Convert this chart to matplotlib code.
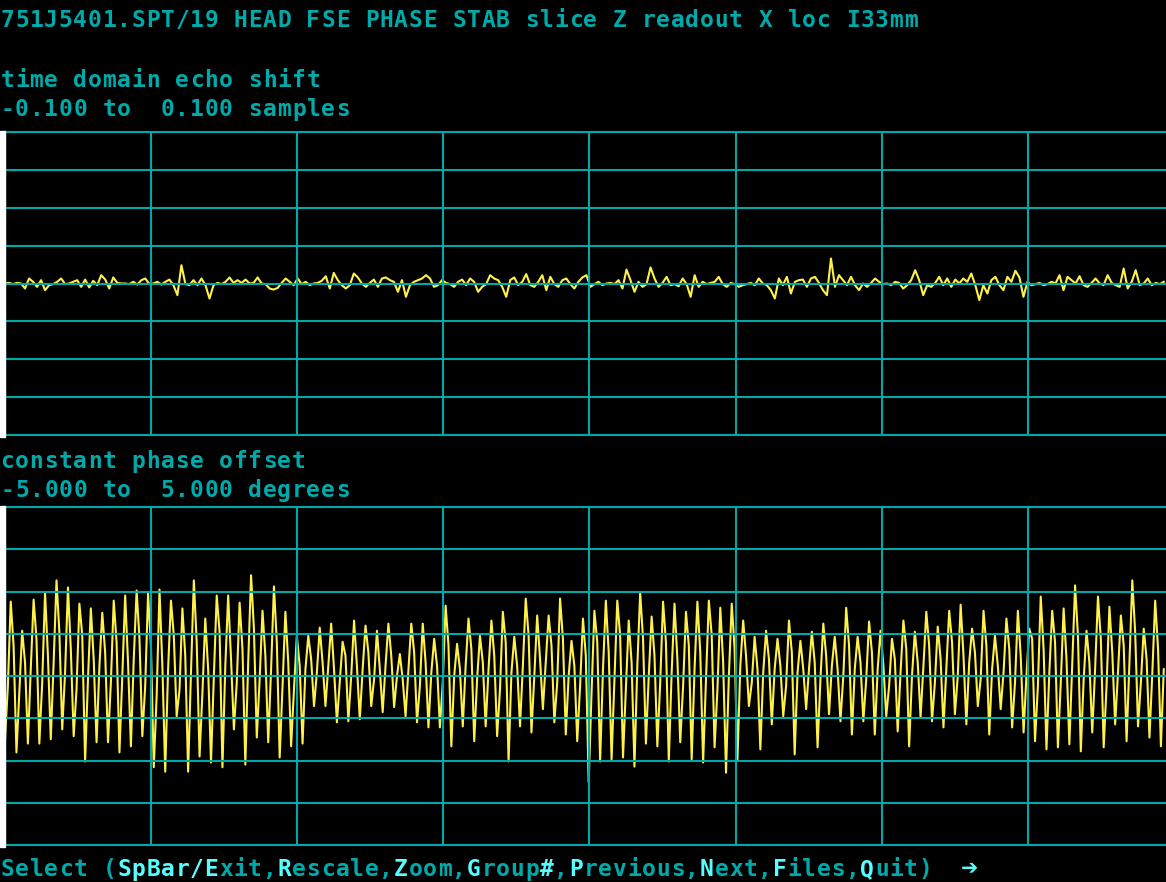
import matplotlib
matplotlib.use("Agg")
import matplotlib.pyplot as plt
from matplotlib.patches import Rectangle
import numpy as np

# ============================
# Screen text
# ============================
title = "751J5401.SPT/19 HEAD FSE PHASE STAB slice Z readout X loc I33mm"
top_label = "time domain echo shift"
top_range = "-0.100 to  0.100 samples"
bottom_label = "constant phase offset"
bottom_range = "-5.000 to  5.000 degrees"
menu = "Select (SpBar/Exit,Rescale,Zoom,Group#,Previous,Next,Files,Quit)"
menu_hot = [8, 9, 10, 11, 12, 13, 14, 19, 27, 32, 37, 39, 48, 53, 59]
prompt_arrow = "\u2794"

# ============================
# Trace data
# ============================
echo_range = (-0.1, 0.1)      # samples
phase_range = (-5.0, 5.0)     # degrees

# time domain echo shift, in 1/1000 samples
echo_shift_milli = [
    0, 0.4, -0.4, 0.4, 0, -3.3, 3.3, 1.1, -2.2, 2.2, -4.4, -1.1, -0.4, 1.1, 3.3, -0.4,
    0, 1.1, 2.2, -2.2, 2.6, -2.6, 1.8, -1.1, 5.5, 2.6, -3.3, 4.0, 0.4, 0, 0, -0.4,
    1.1, -0.7, 2.2, 3.3, -0.4, 0, 1.1, -0.7, 1.1, 2.6, -1.1, -7.7, 12.1, -0.4, -1.1, 2.2,
    -1.1, 3.3, -1.1, -9.9, -1.1, 0.4, -0.4, 1.1, 4.0, 0.4, 2.2, 0.4, 2.6, 0, 0.4, 4.0,
    0, -0.4, -3.3, -4.0, -2.9, 0.4, 3.3, 1.1, -1.1, 3.3, -0.4, 1.1, -1.1, 0, 0.4, 1.8,
    4.8, -3.3, 7.0, 2.2, -1.1, -3.3, -1.1, 6.6, 4.0, 0, -2.2, 0.4, 2.6, -2.2, 3.3, 4.0,
    2.2,
    1.1, -5.5, 2.2, -8.8, -1.1, 1.1, 2.2, 3.3, 5.5, 3.3, -2.2, -1.1, 2.2, 0.4, -0.4, -2.2,
    1.1, 2.6, -1.1, 3.3, 1.1, -5.5, -2.2, -0.4, 5.5, 3.3, 2.2, -2.2, -8.8, 2.2, 4.0, -1.1,
    1.1, 6.2, -1.1, -2.2, 1.1, 5.5, -4.4, 4.4, -0.4, -2.2, 2.2, 3.3, -0.4, -3.3, 1.1, 4.0,
    5.5, -2.2, -0.4, 1.1, -1.1, 0, 0.4, -0.4, 2.2, -3.3, 9.2, 2.2, -5.5, 1.1, -2.2, -0.4,
    10.6, 3.3, -2.2, 0.4, 4.4, -1.1, -0.4, -1.8, 3.3, -0.4, -8.8, 5.5, -2.2, 1.1, -0.4, 0.4,
    1.1, 4.4, -0.4, -2.2, 0.4, -0.4, -2.2, -1.1, -0.4, 0.4, -1.1, 3.3, 0, -1.1, -4.4, -9.9,
    3.3, -1.1, 4.4, -6.6, 1.1, 2.2, 2.6, -2.2, 3.3, 4.4, 0.4, -4.4, -7.7, 16.5, -2.2, 5.5,
    2.2, -1.1, 4.4, -1.1, -4.4, 0, -2.2, 0.4, 3.3, 1.1, -0.4, 0, -1.1, 1.1, 0.4, -3.3,
    -1.1, 2.2, 8.8, 2.2, -7.7, -1.1, -2.2, 0.4, 4.4, -1.1, 3.3, -2.2, 2.6, 0, 3.3, 1.1,
    6.6, -1.1, -11.0, -1.1, -6.6, 2.2, 4.4, -1.1, -4.4, 4.4, 1.1, 8.4, 4.0, -8.8, 1.1, -1.1,
    -0.4, 0.4, -1.1, -0.4, 1.1, 0, 5.5, -4.4, 4.4, 2.2, 0, 4.8, -1.1, -2.2, 0.4, 3.3,
    0, -1.1, 5.5, 0.4, -1.1, -2.2, 9.9, -3.3, 1.1, 8.8, -1.1, 0, 3.3, -1.1, 0.4, -0.4,
    1.1,
]

# constant phase offset, degrees (rise, peak, fall, trough per echo pair)
phase_deg = [
    -1.9,
    -0.3, 2.20, 0.9, -2.26,   -0.5, 1.34, 0.4, -2.00,   0.2, 2.26, 1.1, -2.00,
    -0.2, 2.47, 0.6, -1.87,   0.4, 2.83, 1.3, -1.58,    0.1, 2.62, 0.8, -1.78,
    -0.4, 2.14, 1.2, -2.53,   -0.1, 2.00, 0.5, -1.96,   0.3, 1.87, 0.7, -1.96,
    -0.2, 2.23, 1.0, -2.26,   0.0, 2.38, 0.4, -2.08,    0.5, 2.53, 1.1, -1.78,
    -0.3, 2.44, 0.9, -2.70,   -0.6, 2.56, 0.3, -2.83,   0.2, 2.23, 1.2, -1.19,
    -0.4, 2.00, 0.6, -2.83,   0.1, 2.83, 1.0, -2.38,    -0.5, 1.70, 0.2, -2.56,
    0.0, 2.38, 1.3, -2.70,    0.3, 2.38, 0.5, -1.58,    -0.2, 2.17, 0.8, -2.62,
    0.4, 2.98, 1.4, -1.82,    -0.1, 1.93, 0.6, -1.96,   0.2, 2.65, 1.0, -2.41,
    -0.3, 1.90, 0.4, -2.08,   -0.4, 1.19, 0.3, -2.00,   0.2, 1.19, 0.5, -0.89,
    0.1, 1.43, 0.4, -0.89,    0.3, 1.55, 0.2, -1.37,    -0.2, 1.01, 0.6, -1.34,
    0.0, 1.64, 0.3, -1.28,    0.2, 1.49, 0.7, -0.89,    -0.1, 1.34, 0.2, -1.07,
    0.3, 1.55, 0.6, -0.92,    0.0, 0.65, -0.1, -1.19,   0.2, 1.55, 0.7, -1.37,
    -0.3, 1.55, 0.4, -1.52,   0.1, 1.10, 0.3, -1.52,    -0.2, 2.08, 0.9, -2.08,
    0.0, 0.95, 0.2, -1.49,    0.3, 1.70, 0.8, -1.93,    -0.1, 1.19, 0.4, -1.49,
    0.2, 1.64, 0.6, -1.78,    -0.4, 1.90, 1.0, -2.53,   0.1, 1.16, 0.3, -1.49,
    0.3, 2.29, 1.2, -1.67,    0.0, 1.79, 0.5, -0.98,    0.4, 1.79, 0.9, -1.37,
    -0.2, 2.29, 1.1, -1.73,   0.0, 1.04, 0.3, -1.93,    -0.3, 1.70, 0.6, -3.15,
    -0.5, 1.93, 1.0, -2.53,   0.2, 2.23, 0.7, -2.47,    -0.1, 2.23, 1.2, -2.41,
    -0.4, 1.64, 0.4, -2.68,   0.3, 2.47, 1.1, -2.00,    0.0, 1.76, 0.6, -2.08,
    -0.2, 2.20, 1.0, -2.53,   0.1, 2.14, 0.5, -1.96,    -0.3, 1.90, 0.9, -2.47,
    0.2, 2.20, 0.7, -2.56,    -0.1, 2.23, 1.2, -2.11,   -0.4, 2.02, 0.4, -2.86,
    0.0, 2.14, 0.8, -2.47,    0.3, 1.64, 0.6, -0.89,    -0.2, 1.16, 0.2, -2.17,
    0.1, 1.34, 0.5, -1.43,    0.2, 1.10, 0.3, -1.19,    -0.3, 1.64, 0.7, -2.32,
    0.1, 1.04, 0.2, -0.98,    0.2, 1.31, 0.4, -2.11,    -0.1, 1.55, 0.6, -1.13,
    0.3, 1.16, 0.2, -1.34,    0.0, 2.02, 0.9, -1.73,    0.2, 1.16, 0.4, -1.34,
    -0.1, 1.61, 0.7, -1.73,   0.2, 1.34, 0.3, -1.19,    -0.3, 1.10, 0.5, -1.64,
    0.1, 1.64, 0.8, -2.08,    0.0, 1.31, 0.4, -1.22,    0.3, 1.90, 0.9, -1.34,
    -0.2, 1.46, 0.5, -1.52,   0.2, 1.93, 1.0, -1.13,    0.0, 2.11, 0.6, -1.43,
    0.4, 1.40, 0.7, -0.89,    -0.1, 1.93, 0.9, -1.73,   0.2, 1.19, 0.3, -0.98,
    0.1, 1.70, 0.8, -1.52,    -0.2, 1.93, 0.6, -1.67,   0.0, 1.40, 1.1, -1.93,
    -0.3, 2.35, 0.8, -2.17,   0.1, 1.93, 1.0, -2.11,    -0.2, 2.00, 0.5, -2.02,
    0.3, 2.68, 1.2, -2.23,    -0.1, 1.34, 0.4, -1.67,   0.2, 2.35, 1.1, -2.11,
    -0.3, 2.05, 0.7, -1.43,   0.1, 1.79, 0.9, -1.93,    0.4, 2.83, 1.3, -1.49,
    -0.2, 1.40, 0.5, -1.82,   0.1, 2.23, 0.8, -2.08,
    0.2,
]

# ============================
# Screen geometry / colours
# ============================
W, H = 1166, 882
CW = W / 80.0                 # 80 column text mode
BG = "black"
GRID = "#00A8A8"
TXT = "#00AAAA"
HOT = "#55FFFF"
TRACE = "#FFF04A"
FS = 16.5


def px_box(x0, y0, x1, y1):
    return [x0 / W, 1 - y1 / H, (x1 - x0) / W, (y1 - y0) / H]


fig = plt.figure(figsize=(W / 100, H / 100), dpi=100, facecolor=BG)


def put_text(base_y, col, s, color=TXT, size=FS):
    for i, ch in enumerate(s):
        if ch == " ":
            continue
        fig.text((col + i + 0.5) * CW / W, 1 - base_y / H, ch,
                 color=color, ha="center", va="baseline", fontsize=size,
                 family=["DejaVu Sans Mono", "DejaVu Sans"], fontweight="bold")


def scope_panel(box, values, yrange):
    ax = fig.add_axes(px_box(*box))
    ax.set_facecolor(BG)
    x = np.linspace(0, 7.93, len(values))
    ax.plot(x, values, color=TRACE, lw=1.5, zorder=2)
    ax.set_xlim(0, 8)
    ax.set_ylim(*yrange)
    ax.set_xticks(np.arange(9))
    ax.set_yticks(np.linspace(yrange[0], yrange[1], 9))
    ax.grid(True, color=GRID, lw=1.5)
    ax.set_axisbelow(False)
    ax.tick_params(length=0, labelbottom=False, labelleft=False)
    for sp in ax.spines.values():
        sp.set_color(GRID)
        sp.set_linewidth(1.5)
    return ax


# ============================
# Panels
# ============================
echo_shift = np.array(echo_shift_milli) / 1000.0
scope_panel((5, 132, 1174, 435), echo_shift, echo_range)
scope_panel((5, 507, 1174, 845), phase_deg, phase_range)

# white edge on the left of each panel
for y0, y1 in [(131, 437), (506, 847)]:
    fig.patches.append(Rectangle((0, 1 - y1 / H), 5 / W, (y1 - y0) / H,
                                 transform=fig.transFigure, color="white", zorder=10))

# ============================
# Text rows
# ============================
put_text(27, 0, title)
put_text(87, 0, top_label)
put_text(116, 0, top_range)
put_text(468, 0, bottom_label)
put_text(497, 0, bottom_range)

menu_plain = "".join(" " if i in menu_hot else ch for i, ch in enumerate(menu))
menu_bright = "".join(ch if i in menu_hot else " " for i, ch in enumerate(menu))
put_text(876, 0, menu_plain, TXT)
put_text(876, 0, menu_bright, HOT)
put_text(876, 66, prompt_arrow, HOT, size=21)

fig.savefig("out.png", dpi=100, facecolor=BG)
